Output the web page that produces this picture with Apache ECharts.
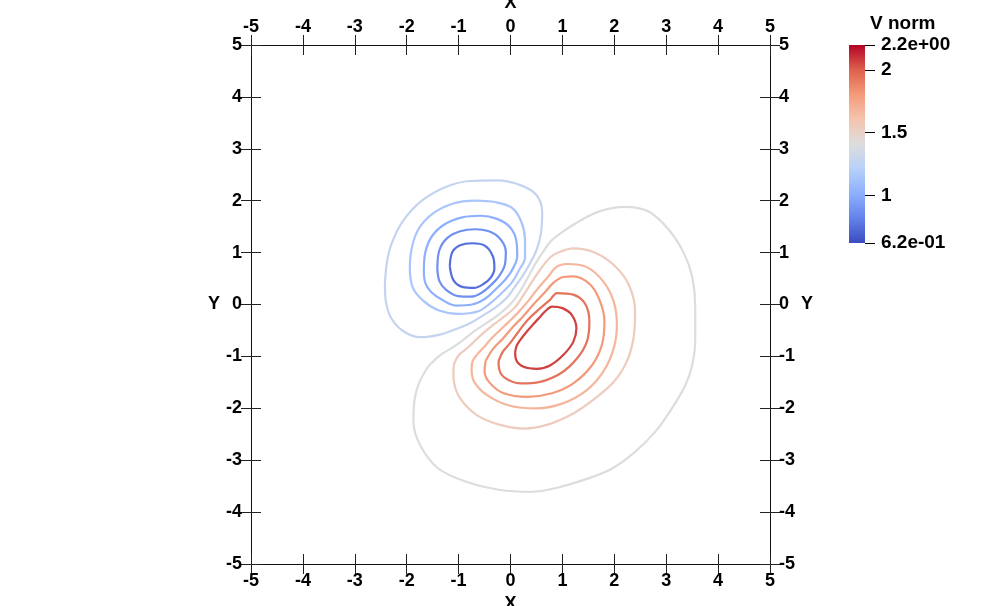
<!DOCTYPE html>
<html><head><meta charset="utf-8">
<script src="https://cdn.jsdelivr.net/npm/echarts@6/dist/echarts.min.js"></script>
<style>html,body{margin:0;padding:0;background:#fff}#c{width:989px;height:606px}</style>
</head><body><div id="c"></div>
<script>
// ---------- data ----------
const axisMin = -5, axisMax = 5, axisStep = 1;
const valueMin = 0.62, valueMax = 2.2;
const colorbarTicks = [0.62, 1, 1.5, 2, 2.2];
const colorbarTickLabels = ['6.2e-01', '1', '1.5', '2', '2.2e+00'];
const colorbarTitle = 'V norm';
// contour levels (blue innermost -> red innermost)
const levels = [0.752, 0.884, 1.015, 1.147, 1.278, 1.410, 1.542, 1.673, 1.805, 1.937, 2.068];

const blue1 = [[-1.17,0.74],[-1.12,1.01],[-0.97,1.14],[-0.74,1.18],[-0.49,1.13],[-0.34,0.93],[-0.31,0.70],[-0.38,0.52],[-0.53,0.39],[-0.70,0.32],[-0.93,0.34],[-1.10,0.47]];
const blue2 = [[-1.41,0.70],[-1.37,1.05],[-1.22,1.28],[-0.97,1.41],[-0.68,1.45],[-0.39,1.40],[-0.18,1.24],[-0.09,1.01],[-0.11,0.76],[-0.23,0.53],[-0.37,0.38],[-0.55,0.23],[-0.76,0.15],[-1.01,0.16],[-1.24,0.28],[-1.37,0.45]];
const blue3 = [[-1.67,0.63],[-1.64,1.01],[-1.51,1.32],[-1.26,1.55],[-0.93,1.68],[-0.58,1.71],[-0.26,1.65],[-0.01,1.49],[0.11,1.24],[0.13,0.93],[0.05,0.70],[-0.09,0.49],[-0.29,0.29],[-0.49,0.11],[-0.74,0.00],[-1.05,-0.02],[-1.32,0.09],[-1.53,0.24],[-1.64,0.41]];
const blue4 = [[-1.94,0.66],[-1.91,1.05],[-1.78,1.44],[-1.51,1.74],[-1.12,1.94],[-0.68,2.00],[-0.28,1.97],[0.03,1.86],[0.21,1.59],[0.28,1.24],[0.28,0.90],[0.17,0.67],[0.03,0.43],[-0.16,0.23],[-0.37,0.04],[-0.62,-0.13],[-1.01,-0.18],[-1.39,-0.11],[-1.68,0.07],[-1.88,0.32]];
const blue5 = [[-2.42,0.38],[-2.38,0.82],[-2.28,1.20],[-2.07,1.61],[-1.72,1.99],[-1.26,2.26],[-0.78,2.38],[-0.26,2.39],[0.19,2.30],[0.50,2.11],[0.61,1.78],[0.59,1.40],[0.51,1.07],[0.38,0.80],[0.24,0.56],[0.07,0.32],[-0.08,0.12],[-0.28,-0.05],[-0.53,-0.21],[-0.78,-0.36],[-1.07,-0.48],[-1.36,-0.58],[-1.74,-0.63],[-2.07,-0.51],[-2.30,-0.26],[-2.40,0.05]];
const gray = [[-1.59,-1.20],[-1.36,-0.98],[-1.12,-0.83],[-0.92,-0.69],[-0.69,-0.51],[-0.45,-0.35],[-0.21,-0.18],[0.01,0.02],[0.18,0.25],[0.33,0.51],[0.47,0.77],[0.63,1.02],[0.81,1.25],[1.25,1.56],[1.70,1.79],[2.21,1.88],[2.66,1.79],[3.05,1.44],[3.34,0.99],[3.50,0.54],[3.56,-0.04],[3.56,-0.68],[3.50,-1.17],[3.37,-1.55],[3.11,-2.00],[2.79,-2.45],[2.40,-2.84],[1.96,-3.16],[1.50,-3.35],[0.86,-3.54],[0.41,-3.61],[-0.23,-3.57],[-0.87,-3.41],[-1.39,-3.16],[-1.74,-2.71],[-1.87,-2.26],[-1.85,-1.84],[-1.76,-1.51]];
const red5 = [[-1.10,-1.32],[-1.08,-1.13],[-0.99,-0.97],[-0.80,-0.81],[-0.59,-0.61],[-0.37,-0.42],[-0.14,-0.25],[0.08,-0.06],[0.25,0.18],[0.41,0.43],[0.57,0.67],[0.76,0.90],[0.92,1.00],[1.21,1.08],[1.60,1.01],[1.99,0.76],[2.28,0.38],[2.40,-0.14],[2.37,-0.65],[2.24,-1.10],[1.99,-1.49],[1.63,-1.81],[1.21,-2.10],[0.70,-2.32],[0.25,-2.39],[-0.20,-2.32],[-0.65,-2.13],[-0.97,-1.81],[-1.09,-1.49]];
const red4 = [[-0.75,-1.28],[-0.73,-1.09],[-0.64,-0.96],[-0.51,-0.82],[-0.39,-0.68],[-0.25,-0.54],[-0.04,-0.34],[0.16,-0.14],[0.35,0.08],[0.53,0.31],[0.72,0.53],[0.88,0.72],[1.09,0.78],[1.47,0.72],[1.79,0.44],[1.99,0.05],[2.05,-0.39],[1.99,-0.84],[1.79,-1.29],[1.47,-1.65],[1.02,-1.90],[0.51,-2.00],[-0.01,-1.95],[-0.46,-1.74],[-0.70,-1.49]];
const red3 = [[-0.48,-1.09],[-0.34,-0.86],[-0.14,-0.65],[0.05,-0.43],[0.25,-0.22],[0.44,0.00],[0.64,0.21],[0.83,0.42],[1.02,0.53],[1.21,0.54],[1.54,0.38],[1.73,0.05],[1.81,-0.33],[1.76,-0.78],[1.57,-1.17],[1.21,-1.52],[0.80,-1.71],[0.32,-1.78],[-0.13,-1.71],[-0.39,-1.52],[-0.50,-1.29]];
const red2 = [[-0.23,-1.09],[-0.14,-0.90],[-0.02,-0.76],[0.15,-0.53],[0.33,-0.30],[0.54,-0.10],[0.76,0.09],[0.90,0.22],[1.21,0.19],[1.44,0.01],[1.52,-0.33],[1.47,-0.72],[1.28,-1.04],[0.96,-1.33],[0.57,-1.49],[0.19,-1.52],[-0.10,-1.42],[-0.22,-1.24]];
const red1 = [[0.09,-0.92],[0.12,-0.79],[0.19,-0.68],[0.30,-0.54],[0.43,-0.39],[0.56,-0.25],[0.68,-0.12],[0.80,-0.04],[1.00,-0.07],[1.18,-0.20],[1.27,-0.46],[1.21,-0.72],[1.02,-0.97],[0.77,-1.17],[0.51,-1.24],[0.25,-1.20],[0.11,-1.07]];

const contours = [blue1, blue2, blue3, blue4, blue5, gray, red5, red4, red3, red2, red1];

// ---------- colour map (cool to warm) ----------
const cmStops = [[0,[59,76,192]],[0.125,[98,130,234]],[0.25,[141,176,254]],[0.375,[184,208,249]],[0.5,[221,221,221]],[0.625,[245,196,173]],[0.75,[244,154,123]],[0.875,[222,96,77]],[1,[180,4,38]]];
function cmap(t) {
  t = Math.max(0, Math.min(1, t));
  for (let i = 1; i < cmStops.length; i++) {
    if (t <= cmStops[i][0]) {
      const a = cmStops[i-1], b = cmStops[i];
      const f = (t - a[0]) / (b[0] - a[0]);
      const c = a[1].map((v, k) => Math.round(v + (b[1][k] - v) * f));
      return 'rgb(' + c.join(',') + ')';
    }
  }
  return 'rgb(180,4,38)';
}
const norm = v => (v - valueMin) / (valueMax - valueMin);

// ---------- chart ----------
const FONT = "'Liberation Sans', Arial, sans-serif";
const txt = {color: '#000', fontFamily: FONT, fontSize: 18, fontWeight: 'bold'};

function xAx(pos, inside, withLabels) {
  return {
    type: 'value', gridIndex: 0, position: pos, min: axisMin, max: axisMax, interval: axisStep,
    axisLine: {show: !inside, onZero: false, lineStyle: {color: '#111', width: 1}},
    axisTick: {show: true, inside: inside, length: 10, lineStyle: {color: '#222', width: 1}},
    axisLabel: Object.assign({show: withLabels, margin: pos === 'top' ? 9 : 8, showMinLabel: true, showMaxLabel: true}, txt),
    splitLine: {show: false},
    name: withLabels ? 'X' : '', nameLocation: 'middle', nameGap: pos === 'top' ? 33 : 29,
    nameTextStyle: txt
  };
}
function yAx(pos, inside, withLabels) {
  return {
    type: 'value', gridIndex: 0, position: pos, min: axisMin, max: axisMax, interval: axisStep,
    axisLine: {show: !inside, onZero: false, lineStyle: {color: '#111', width: 1}},
    axisTick: {show: true, inside: inside, length: 10, lineStyle: {color: '#222', width: 1}},
    axisLabel: Object.assign({show: withLabels, margin: 9, showMinLabel: true, showMaxLabel: true}, txt),
    splitLine: {show: false},
    name: withLabels ? 'Y' : '', nameLocation: 'middle', nameGap: pos === 'left' ? 31 : 30, nameRotate: 0,
    nameTextStyle: txt
  };
}

const cbGradient = new echarts.graphic.LinearGradient(0, 1, 0, 0,
  cmStops.map(s => ({offset: s[0], color: 'rgb(' + s[1].join(',') + ')'})));

const series = contours.map((pts, i) => ({
  type: 'line', xAxisIndex: 0, yAxisIndex: 0,
  data: pts.concat([pts[0]]),
  showSymbol: false, symbol: 'none', smooth: 0.35, silent: true,
  lineStyle: {color: cmap(norm(levels[i])), width: 2.2},
  z: 3
}));
series.push({
  type: 'bar', xAxisIndex: 4, yAxisIndex: 4, data: [valueMax], barWidth: '100%',
  clip: true, silent: true, itemStyle: {color: cbGradient}
});

const chart = echarts.init(document.getElementById('c'), null, {renderer: 'canvas'});
chart.setOption({
  animation: false,
  backgroundColor: '#fff',
  title: {text: colorbarTitle, left: 865, top: 9, textStyle: {color: '#000', fontFamily: FONT, fontSize: 19, fontWeight: 'bold'}},
  grid: [
    {left: 251, top: 45, width: 519, height: 519, outerBoundsMode: 'none', containLabel: false},
    {left: 849, top: 45, width: 16, height: 198, outerBoundsMode: 'none', containLabel: false}
  ],
  xAxis: [
    xAx('bottom', false, true), xAx('bottom', true, false),
    xAx('top', false, true), xAx('top', true, false),
    {type: 'category', gridIndex: 1, data: [colorbarTitle], show: false}
  ],
  yAxis: [
    yAx('left', false, true), yAx('left', true, false),
    yAx('right', false, true), yAx('right', true, false),
    {
      type: 'value', gridIndex: 1, position: 'right', min: valueMin, max: valueMax,
      axisLine: {show: false, onZero: false},
      axisTick: {show: true, length: 10, customValues: colorbarTicks, lineStyle: {color: '#000', width: 1}},
      axisLabel: {show: true, margin: 16, customValues: colorbarTicks, showMinLabel: true, showMaxLabel: true,
        color: '#000', fontFamily: FONT, fontSize: 19, fontWeight: 'bold',
        formatter: v => { const k = colorbarTicks.findIndex(t => Math.abs(t - v) < 1e-6); return k >= 0 ? colorbarTickLabels[k] : ''; }},
      splitLine: {show: false}
    }
  ],
  series: series
});
</script>
</body></html>
